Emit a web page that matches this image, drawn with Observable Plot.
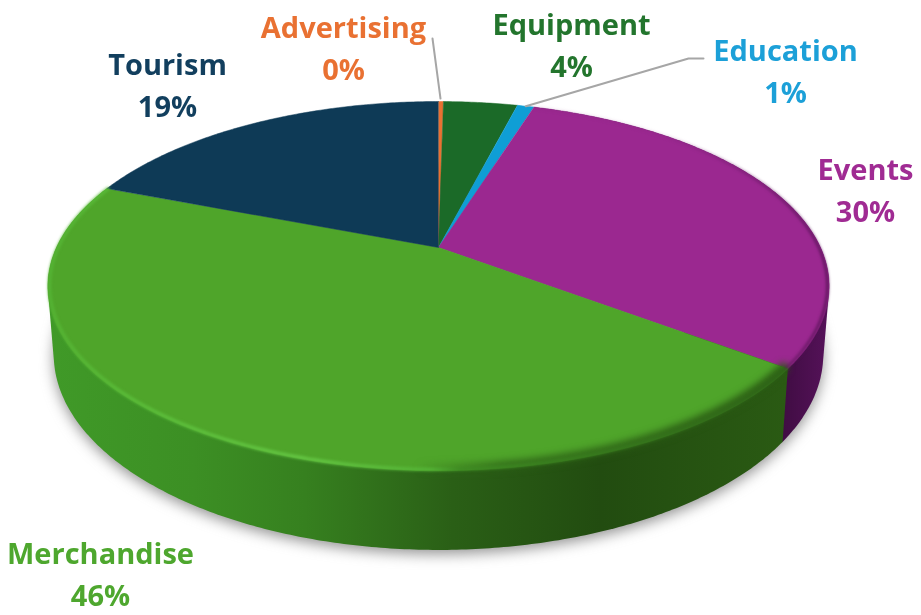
<!DOCTYPE html>
<html>
<head>
<meta charset="utf-8">
<script src="https://cdn.jsdelivr.net/npm/d3@7"></script>
<script src="https://cdn.jsdelivr.net/npm/@observablehq/plot@0.6"></script>
<style>
html,body{margin:0;padding:0;background:#fff;}
svg{display:block;filter:blur(0.5px);}
.shadow{filter:blur(7px);}
.rim{filter:blur(1.5px);}
.rimSoft{filter:blur(3.5px);}
</style>
</head>
<body>
<script>
// Data, clockwise from twelve o'clock
const categories = ["Advertising","Equipment","Education","Events","Merchandise","Tourism"];
const shares     = [0.25, 3.75, 0.85, 30.4, 45.6, 19.15];
const percentLabels = ["0%","4%","1%","30%","46%","19%"];
const sliceColors = ["#e97132","#1b6a28","#0f9ed5","#9b2890","#4fa52a","#0e3a56"];
const textColors  = ["#e97132","#23752d","#1ca0d8","#a02b93","#4ea72e","#123f5e"];

// Perspective of the tilted disc
const view = {cx:438, cy:247, a:382, b:176.5, p:0.209, depth:63, shrink:0.985};
const onDisc = (t, k = 1) => {
  const u = k * Math.sin(t), v = -k * Math.cos(t), w = 1 - view.p * v;
  return {x: view.cx + view.a * u / w, y: view.cy + view.b * v / w};
};
const top3d = t => onDisc(t);
const low3d = t => {
  const u = Math.sin(t), v = -Math.cos(t), w = 1 - view.p * v;
  return {x: view.cx + view.shrink * view.a * u / w, y: view.cy + view.shrink * view.b * v / w + view.depth / w + 3};
};
const arcs = d3.pie().sort(null)(shares);
const steps = (s, e) => d3.range(0, 1.0001, 1 / Math.max(2, Math.ceil((e - s) / 0.01))).map(k => s + (e - s) * k);
const arcOf = i => steps(arcs[i].startAngle, arcs[i].endAngle);

const facePoly = categories.flatMap((name, i) => [
  {name, x: view.cx, y: view.cy},
  ...arcOf(i).map(t => ({name, ...top3d(t)}))
]);
// The side of a slice is the hull of its upper and lower rims; the face covers the rest
const sidePoly = i => {
  const pts = [...arcOf(i).map(top3d), ...arcOf(i).map(low3d)].map(p => [p.x, p.y]);
  return d3.polygonHull(pts).map(([x, y]) => ({x, y}));
};
const ringLow = steps(0, 2 * Math.PI).map(low3d);
const rimOf = (i, k) => arcOf(i).map(t => onDisc(t, k));

const EVENTS = categories.indexOf("Events"), MERCH = categories.indexOf("Merchandise");
const midTop = i => top3d((arcs[i].startAngle + arcs[i].endAngle) / 2);

// Layout of labels
const labelPos = {
  Advertising:[343,45], Equipment:[571,42], Education:[785,68],
  Events:[865,187], Merchandise:[100,571], Tourism:[167,82]
};
const labels = categories.map((name, i) => ({
  text: name + "\n" + percentLabels[i], x: labelPos[name][0], y: labelPos[name][1], color: textColors[i]
}));
const leaderAdv = [{x:432,y:38}, {x:440,y:midTop(0).y - 3}];
const leaderEdu = [{x:703,y:58},{x:688,y:58}, midTop(2)];

const defs = () => d3.create("svg:defs").html(`
  <linearGradient id="merchSide" gradientUnits="userSpaceOnUse" x1="45" x2="785" y1="0" y2="0">
    <stop offset="0" stop-color="#409a28"/><stop offset="0.2" stop-color="#3c8f24"/>
    <stop offset="0.35" stop-color="#36801f"/><stop offset="0.55" stop-color="#2a5f16"/>
    <stop offset="0.75" stop-color="#224c10"/><stop offset="1" stop-color="#2a5a13"/>
  </linearGradient>
  <linearGradient id="eventsSide" gradientUnits="userSpaceOnUse" x1="780" x2="830" y1="0" y2="0">
    <stop offset="0" stop-color="#3f0c42"/><stop offset="1" stop-color="#56125a"/>
  </linearGradient>
  <linearGradient id="merchRim" gradientUnits="userSpaceOnUse" x1="45" x2="785" y1="0" y2="0">
    <stop offset="0" stop-color="#55b535"/><stop offset="0.12" stop-color="#5cc03c"/>
    <stop offset="0.35" stop-color="#68cc48"/><stop offset="0.52" stop-color="#55b638"/>
    <stop offset="0.56" stop-color="#3d8a22"/><stop offset="1" stop-color="#2c6016"/>
  </linearGradient>
  <linearGradient id="merchSoft" gradientUnits="userSpaceOnUse" x1="45" x2="785" y1="0" y2="0">
    <stop offset="0.5" stop-color="#2c6016" stop-opacity="0"/><stop offset="0.62" stop-color="#2c6016" stop-opacity="0.8"/>
    <stop offset="1" stop-color="#2a5a13" stop-opacity="1"/>
  </linearGradient>
  <linearGradient id="eventsRim" gradientUnits="userSpaceOnUse" x1="540" x2="830" y1="0" y2="0">
    <stop offset="0.4" stop-color="#7a1f74" stop-opacity="0.15"/><stop offset="1" stop-color="#4f1050" stop-opacity="0.9"/>
  </linearGradient>
`).node();

const xy = {x:"x", y:"y"};
const chart = Plot.plot({
  width:921, height:615, margin:0,
  style:{background:"transparent", overflow:"visible"},
  x:{domain:[0,921], range:[0,921], axis:null},
  y:{domain:[0,615], range:[0,615], axis:null},
  marks:[
    defs,
    Plot.line(ringLow, {...xy, fill:"#777777", fillOpacity:0.8, stroke:"none", dy:4, className:"shadow"}),
    Plot.line(sidePoly(EVENTS), {...xy, fill:"url(#eventsSide)", stroke:"none"}),
    Plot.line(sidePoly(MERCH), {...xy, fill:"url(#merchSide)", stroke:"none"}),
    Plot.line(facePoly, {...xy, z:"name", fill:d => sliceColors[categories.indexOf(d.name)],
      stroke:d => sliceColors[categories.indexOf(d.name)], strokeWidth:0.5}),
    Plot.line(rimOf(MERCH, 0.99), {...xy, stroke:"url(#merchSoft)", strokeWidth:9, className:"rimSoft"}),
    Plot.line(rimOf(MERCH, 0.996), {...xy, stroke:"url(#merchRim)", strokeWidth:3, className:"rim"}),
    Plot.line(rimOf(EVENTS, 0.996), {...xy, stroke:"url(#eventsRim)", strokeWidth:2.5, className:"rim"}),
    Plot.line(leaderAdv, {...xy, stroke:"#a6a6a6", strokeWidth:2}),
    Plot.line(leaderEdu, {...xy, stroke:"#a6a6a6", strokeWidth:2}),
    Plot.text(labels, {x:"x", y:"y", text:"text", fill:"color", fontSize:29, fontWeight:700,
      fontFamily:"'Open Sans', sans-serif", lineHeight:1.45, textAnchor:"middle"})
  ]
});
document.body.appendChild(chart);
</script>
</body>
</html>
